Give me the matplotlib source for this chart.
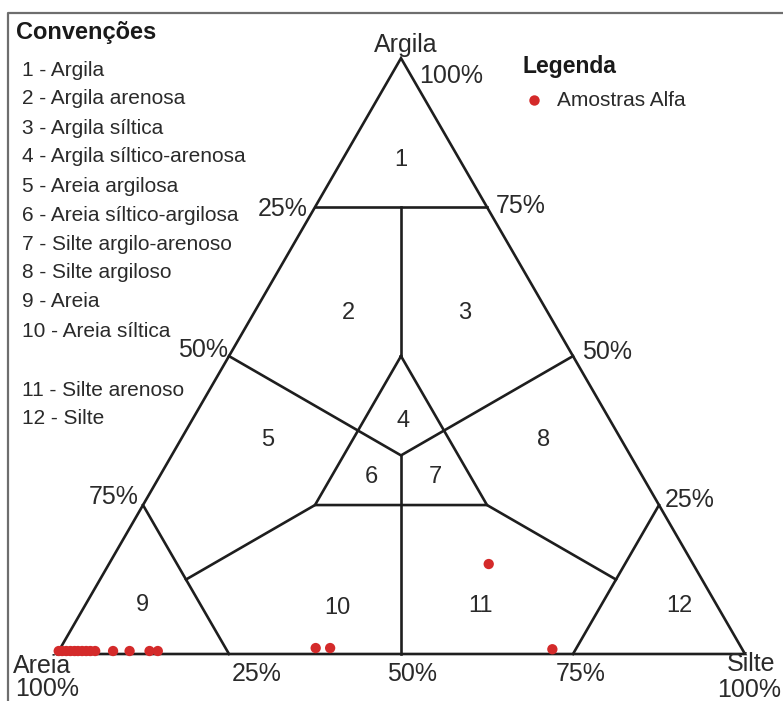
import numpy as np
import matplotlib
matplotlib.use("Agg")
import matplotlib.pyplot as plt

plt.rcParams['font.family'] = ['Liberation Sans', 'DejaVu Sans']

# amostras (silte %, argila %) ; areia = 100 - silte - argila
amostra_silte = [0.0, 0.5, 1.1, 1.7, 2.3, 2.8, 3.4, 4.0, 4.6, 5.3, 7.9, 10.3, 13.2, 14.4,
                 37.1, 39.2, 55.2, 71.6]
amostra_argila = [0.5, 0.5, 0.5, 0.5, 0.5, 0.5, 0.5, 0.5, 0.5, 0.5, 0.5, 0.5, 0.5, 0.5,
                  1.0, 1.0, 15.1, 0.8]

convencoes = ["1 - Argila", "2 - Argila arenosa", "3 - Argila síltica",
              "4 - Argila síltico-arenosa", "5 - Areia argilosa",
              "6 - Areia síltico-argilosa", "7 - Silte argilo-arenoso",
              "8 - Silte argiloso", "9 - Areia", "10 - Areia síltica",
              "11 - Silte arenoso", "12 - Silte"]

# limites das classes (areia, silte, argila)
c3 = 100 / 3
class_lines = [
    [(100, 0, 0), (0, 100, 0), (0, 0, 100), (100, 0, 0)],
    [(25, 0, 75), (0, 25, 75)],
    [(12.5, 12.5, 75), (25, 25, 50)],
    [(50, 0, 50), (c3, c3, c3), (0, 50, 50)],
    [(c3, c3, c3), (50, 50, 0)],
    [(25, 25, 50), (50, 25, 25), (25, 50, 25), (25, 25, 50)],
    [(50, 25, 25), (75, 12.5, 12.5)],
    [(25, 50, 25), (12.5, 75, 12.5)],
    [(75, 0, 25), (75, 25, 0)],
    [(0, 75, 25), (25, 75, 0)],
]
class_ids = ["1", "2", "3", "4", "5", "6", "7", "8", "9", "10", "11", "12"]
# posição dos números (areia, silte, argila)
class_centers = [(8.6, 8.5, 82.9), (29.0, 13.8, 57.2), (12.1, 30.7, 57.2),
                 (30.2, 30.7, 39.1), (51.4, 12.7, 35.9), (39.5, 30.8, 29.7),
                 (30.2, 40.1, 29.7), (11.4, 52.7, 35.9), (83.5, 8.3, 8.2),
                 (55.4, 36.9, 7.7), (34.4, 57.6, 8.0), (5.5, 86.5, 8.0)]


def tern(sand, silt, clay):
    x = (np.asarray(silt) + np.asarray(clay) / 2) / 100
    y = np.asarray(clay) / 100 * np.sqrt(3) / 2
    return x, y


W, H = 783, 701
fig = plt.figure(figsize=(W / 100, H / 100), dpi=100)
ax = fig.add_axes([0, 0, 1, 1])
ax.axis('off')
side = 688.0
x0, yb = 57.0, 654.0
ax.set_xlim(-x0 / side, (W - x0) / side)
ax.set_ylim(-(H - yb) / side, yb / side)

for pts in class_lines:
    xs, ys = tern(*zip(*pts))
    ax.plot(xs, ys, color='#1e1e1e', lw=1.9, solid_joinstyle='miter')

txt_c = '#2a2a2a'
for lab, cen in zip(class_ids, class_centers):
    xc, yc = tern(*cen)
    ax.text(xc, yc, lab, fontsize=17, color=txt_c, ha='center', va='center')

sand = [100 - s - c for s, c in zip(amostra_silte, amostra_argila)]
px, py = tern(sand, amostra_silte, amostra_argila)
ax.scatter(px, py, s=55, color='#d42a2a', edgecolors='none', zorder=5)


def ftext(x, y, s, **kw):
    kw.setdefault('color', txt_c)
    kw.setdefault('va', 'center')
    fig.text(x / W, 1 - y / H, s, **kw)


# rótulos dos eixos
ftext(406, 45, "Argila", fontsize=18, ha='center')
ftext(451, 76, "100%", fontsize=18, ha='center')
ftext(308, 209, "25%", fontsize=18, ha='right')
ftext(496, 206, "75%", fontsize=18, ha='left')
ftext(228, 350, "50%", fontsize=18, ha='right')
ftext(582, 352, "50%", fontsize=18, ha='left')
ftext(139, 497, "75%", fontsize=18, ha='right')
ftext(665, 500, "25%", fontsize=18, ha='left')
ftext(257, 674, "25%", fontsize=18, ha='center')
ftext(412, 674, "50%", fontsize=18, ha='center')
ftext(581, 674, "75%", fontsize=18, ha='center')
ftext(13, 666, "Areia", fontsize=18, ha='left')
ftext(15, 689, "100%", fontsize=18, ha='left')
ftext(727, 664, "Silte", fontsize=18, ha='left')
ftext(781, 690, "100%", fontsize=18, ha='right')

# convenções
ftext(16, 33, "Convenções", fontsize=17, fontweight='bold', ha='left', color='#1a1a1a')
conv_y = [70, 99, 128, 157, 186, 215, 244, 272, 301, 331, 390, 418]
for s, yy in zip(convencoes, conv_y):
    ftext(22, yy, s, fontsize=15, ha='left')

# legenda
ftext(522, 67, "Legenda", fontsize=16.5, fontweight='bold', ha='left', color='#1a1a1a')
fig.lines.append(plt.Line2D([534 / W], [1 - 100 / H], marker='o', ms=7.5,
                            color='#d42a2a', mec='none', transform=fig.transFigure))
ftext(557, 100, "Amostras Alfa", fontsize=15, ha='left')

# moldura
fig.lines.append(plt.Line2D([8 / W, 8 / W, 1], [0, 1 - 13 / H, 1 - 13 / H],
                            color='#6e6e6e', lw=1.6, transform=fig.transFigure))

fig.savefig("out.png", dpi=100)
